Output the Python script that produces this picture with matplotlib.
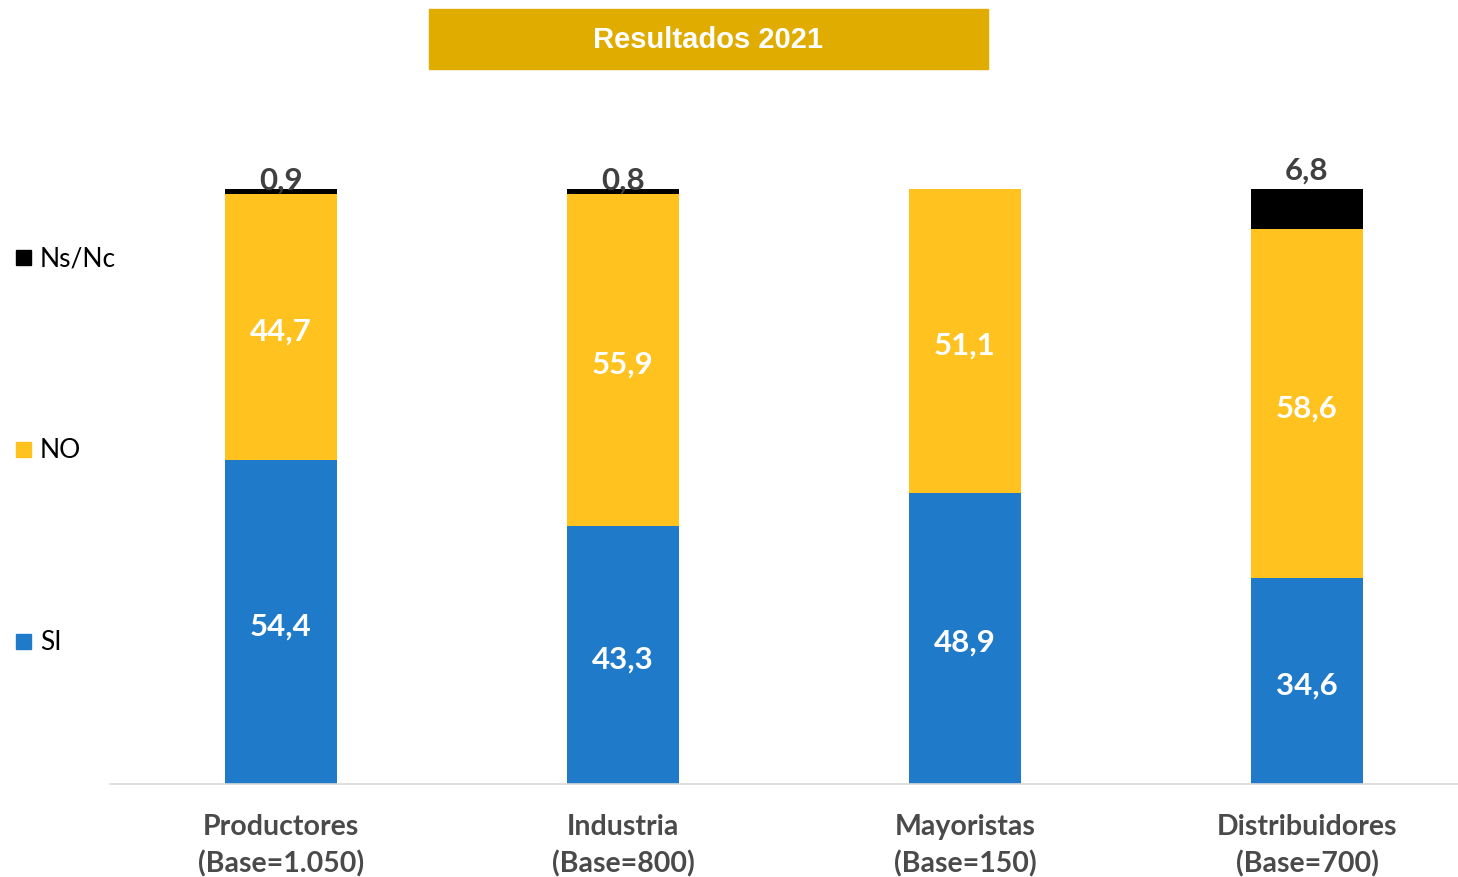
import matplotlib
matplotlib.use("Agg")
import matplotlib.pyplot as plt
from matplotlib.patches import Rectangle

# datos
categorias = ["Productores\n(Base=1.050)", "Industria\n(Base=800)",
              "Mayoristas\n(Base=150)", "Distribuidores\n(Base=700)"]
si = [54.4, 43.3, 48.9, 34.6]
no = [44.7, 55.9, 51.1, 58.6]
nsnc = [0.9, 0.8, 0.0, 6.8]
series = ["SI", "NO", "Ns/Nc"]

AZUL = "#1f7bca"
AMARILLO = "#ffc21f"
NEGRO = "#000000"
GRIS = "#404040"

plt.rcParams['font.family'] = ['Lato', 'DejaVu Sans']

fig = plt.figure(figsize=(14.58, 8.78), dpi=100)
ax = fig.add_axes([110 / 1458, (878 - 785) / 878, 1368 / 1458, 595 / 878])

x = list(range(len(categorias)))
ancho = 0.327
ax.bar(x, si, ancho, color=AZUL, label=series[0])
ax.bar(x, no, ancho, bottom=si, color=AMARILLO, label=series[1])
base3 = [a + b for a, b in zip(si, no)]
ax.bar(x, nsnc, ancho, bottom=base3, color=NEGRO, label=series[2])

ax.set_xlim(-0.5, 3.5)
ax.set_ylim(0, 100)


def fmt(v):
    return f"{v:.1f}".replace(".", ",")


# etiquetas dentro de las barras
for i in x:
    ax.text(i, si[i] / 2 - 0.6, fmt(si[i]), ha="center", va="center",
            color="white", fontsize=22.5, fontweight="bold")
    ax.text(i, si[i] + no[i] / 2 - 0.6, fmt(no[i]), ha="center",
            va="center", color="white", fontsize=22.5, fontweight="bold")
    if nsnc[i] > 0:
        arriba = 101.6 if nsnc[i] < 2 else 103.3
        ax.text(i, arriba, fmt(nsnc[i]), ha="center", va="center",
                color=GRIS, fontsize=22.5, fontweight="bold", clip_on=False)

ax.set_xticks(x)
ax.set_xticklabels(categorias, fontsize=20.5, fontweight="bold", color="#4a4a4a",
                   linespacing=1.48)
ax.tick_params(axis="x", length=0, pad=21)
ax.set_yticks([])
for lado in ["top", "right", "left"]:
    ax.spines[lado].set_visible(False)
ax.spines["bottom"].set_color("#d9d9d9")
ax.spines["bottom"].set_linewidth(1.2)

# leyenda a la izquierda
posiciones = {"Ns/Nc": 259, "NO": 451, "SI": 643}
colores = {"Ns/Nc": NEGRO, "NO": AMARILLO, "SI": AZUL}
for nombre in ["Ns/Nc", "NO", "SI"]:
    yy = 1 - posiciones[nombre] / 878
    fig.patches.append(Rectangle((16 / 1458, yy - 7 / 878), 15 / 1458, 15 / 878,
                                 transform=fig.transFigure, color=colores[nombre]))
    fig.text(40 / 1458, yy, nombre, ha="left", va="center", fontsize=19, color="#000000")

# cuadro de titulo
fig.patches.append(Rectangle((429 / 1458, 1 - 70 / 878), 559 / 1458, 60 / 878,
                             transform=fig.transFigure, color="#e0ac00"))
fig.text(708 / 1458, 1 - 40 / 878, "Resultados 2021", ha="center", va="center",
         fontsize=21, fontweight="bold", color="white", family="Liberation Sans")

fig.savefig("out.png", dpi=100)
